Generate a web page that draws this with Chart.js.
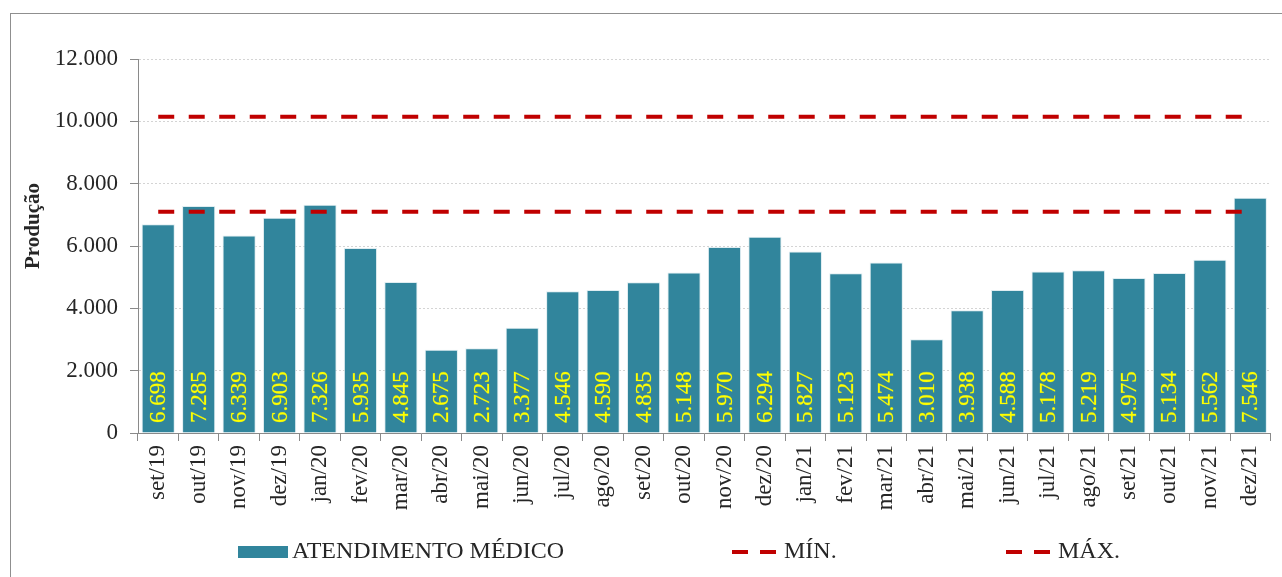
<!DOCTYPE html>
<html>
<head>
<meta charset="utf-8">
<script src="https://cdn.jsdelivr.net/npm/chart.js@4.4.1/dist/chart.umd.min.js"></script>
<style>
  html, body { margin: 0; padding: 0; background: #ffffff; overflow: hidden; }
  #wrap { position: relative; width: 1282px; height: 577px; }
  #frame { position: absolute; left: 10px; top: 13px; width: 1400px; height: 700px;
           border-left: 1px solid #8f8f8f; border-top: 1px solid #8f8f8f; }
  #c { position: absolute; left: 0; top: 0; }
</style>
</head>
<body>
<div id="wrap">
  <div id="frame"></div>
  <canvas id="c" width="1282" height="577"></canvas>
</div>
<script>
const categories = ['set/19','out/19','nov/19','dez/19','jan/20','fev/20','mar/20','abr/20','mai/20','jun/20','jul/20','ago/20','set/20','out/20','nov/20','dez/20','jan/21','fev/21','mar/21','abr/21','mai/21','jun/21','jul/21','ago/21','set/21','out/21','nov/21','dez/21'];
const atendimentoMedico = [6698, 7285, 6339, 6903, 7326, 5935, 4845, 2675, 2723, 3377, 4546, 4590, 4835, 5148, 5970, 6294, 5827, 5123, 5474, 3010, 3938, 4588, 5178, 5219, 4975, 5134, 5562, 7546];
const minLimit = [7100, 7100, 7100, 7100, 7100, 7100, 7100, 7100, 7100, 7100, 7100, 7100, 7100, 7100, 7100, 7100, 7100, 7100, 7100, 7100, 7100, 7100, 7100, 7100, 7100, 7100, 7100, 7100];
const maxLimit = [10150, 10150, 10150, 10150, 10150, 10150, 10150, 10150, 10150, 10150, 10150, 10150, 10150, 10150, 10150, 10150, 10150, 10150, 10150, 10150, 10150, 10150, 10150, 10150, 10150, 10150, 10150, 10150];
const yTicks = [0, 2000, 4000, 6000, 8000, 10000, 12000];
const seriesNames = ['ATENDIMENTO MÉDICO', 'MÍN.', 'MÁX.'];
const axisTitle = 'Produção';

const SERIF = "'Liberation Serif', 'Times New Roman', serif";
const BAR_COLOR = '#31859C';
const LINE_COLOR = '#C00000';
const DASH = [16, 14.5];

function fmt(v) {
  return String(Math.round(v)).replace(/\B(?=(\d{3})+(?!\d))/g, '.');
}

const barLabels = {
  id: 'barLabels',
  afterDatasetsDraw(chart) {
    const meta = chart.getDatasetMeta(0);
    const ctx = chart.ctx;
    const base = chart.scales.y.getPixelForValue(0);
    ctx.save();
    ctx.fillStyle = '#FFFF00';
    ctx.strokeStyle = 'rgba(255,255,0,0.35)';
    ctx.lineWidth = 0.6;
    ctx.font = '23px ' + SERIF;
    ctx.textAlign = 'left';
    ctx.textBaseline = 'middle';
    meta.data.forEach((bar, i) => {
      ctx.save();
      ctx.translate(bar.x + 1, base - 10);
      ctx.rotate(-Math.PI / 2);
      const t = fmt(chart.data.datasets[0].data[i]);
      ctx.fillText(t, 0, 0);
      ctx.strokeText(t, 0, 0);
      ctx.restore();
    });
    ctx.restore();
  }
};

const extras = {
  id: 'extras',
  afterDraw(chart) {
    const ctx = chart.ctx;
    ctx.save();
    ctx.fillStyle = '#262626';
    ctx.font = 'bold 21px ' + SERIF;
    ctx.textAlign = 'center';
    ctx.textBaseline = 'middle';
    ctx.translate(34, 226);
    ctx.rotate(-Math.PI / 2);
    ctx.fillText(axisTitle, 0, 0);
    ctx.restore();

    ctx.save();
    const ly = 552;
    ctx.font = '24px ' + SERIF;
    ctx.textBaseline = 'middle';
    ctx.textAlign = 'left';
    ctx.fillStyle = BAR_COLOR;
    ctx.fillRect(238, 546, 50, 12);
    ctx.fillStyle = '#262626';
    ctx.fillText(chart.data.datasets[0].label, 292, ly);

    ctx.strokeStyle = LINE_COLOR;
    ctx.lineWidth = 4;
    ctx.setLineDash([16, 12]);
    ctx.beginPath(); ctx.moveTo(732, ly); ctx.lineTo(778, ly); ctx.stroke();
    ctx.beginPath(); ctx.moveTo(1006, ly); ctx.lineTo(1052, ly); ctx.stroke();
    ctx.setLineDash([]);
    ctx.fillText(chart.data.datasets[1].label, 784, ly);
    ctx.fillText(chart.data.datasets[2].label, 1058, ly);
    ctx.restore();
  }
};

new Chart(document.getElementById('c'), {
  data: {
    labels: categories,
    datasets: [
      {
        type: 'bar',
        label: seriesNames[0],
        data: atendimentoMedico,
        backgroundColor: BAR_COLOR,
        borderColor: 'rgba(220,235,240,0.9)',
        borderWidth: 1,
        categoryPercentage: 1.0,
        barPercentage: 0.82,
        order: 2
      },
      {
        type: 'line',
        label: seriesNames[1],
        data: minLimit,
        borderColor: LINE_COLOR,
        borderWidth: 4,
        borderDash: DASH,
        pointRadius: 0,
        fill: false,
        tension: 0,
        order: 0
      },
      {
        type: 'line',
        label: seriesNames[2],
        data: maxLimit,
        borderColor: LINE_COLOR,
        borderWidth: 4,
        borderDash: DASH,
        pointRadius: 0,
        fill: false,
        tension: 0,
        order: 1
      }
    ]
  },
  options: {
    responsive: false,
    animation: false,
    events: [],
    layout: { padding: { top: 59, right: 6, left: 0, bottom: 0 } },
    plugins: { legend: { display: false }, tooltip: { enabled: false } },
    scales: {
      x: {
        type: 'category',
        offset: true,
        grid: { offset: true, drawOnChartArea: false, drawTicks: true, tickLength: 8, tickColor: '#8a8a8a', tickWidth: 1 },
        border: { color: '#8a8a8a', width: 1 },
        ticks: { autoSkip: false, maxRotation: 90, minRotation: 90, padding: 4, color: '#262626', font: { family: SERIF, size: 23 } },
        afterFit(s) { s.height = 144; }
      },
      y: {
        min: 0, max: 12000,
        afterBuildTicks(s) { s.ticks = yTicks.map(v => ({ value: v })); },
        grid: { color: '#d4d4d4', lineWidth: 1, tickLength: 8, tickColor: '#8a8a8a', tickWidth: 1 },
        border: { color: '#8a8a8a', width: 1, dash: [2, 2] },
        ticks: { padding: 12, color: '#262626', font: { family: SERIF, size: 23 }, callback: v => fmt(v) },
        afterFit(s) { s.width = 138; }
      }
    }
  },
  plugins: [barLabels, extras]
});
</script>
</body>
</html>
